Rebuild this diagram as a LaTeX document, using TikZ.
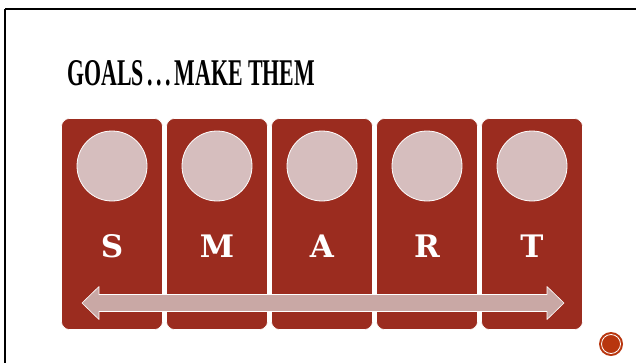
\documentclass[tikz,border=0pt]{standalone}
\usepackage{fontspec}
\setmainfont{DejaVu Serif}
\newfontfamily\titlefont{Liberation Serif}
\usetikzlibrary{positioning}
\definecolor{smartred}{HTML}{9B2C1F}
\definecolor{smartpink}{HTML}{D6BEBE}
\definecolor{arrowpink}{HTML}{C9A8A5}
\definecolor{dotred}{HTML}{B8360F}

\begin{document}
\begin{tikzpicture}[x=1pt,y=-1pt,line join=round]
  \tikzset{
    letterbox/.style={rectangle,rounded corners=8pt,fill=smartred,draw=white,line width=0.6pt,
      minimum width=101pt,minimum height=211pt,inner sep=0pt},
    disc/.style={circle,fill=smartpink,draw=white,line width=0.8pt,minimum size=70pt,inner sep=0pt},
    lettertext/.style={text=white,font=\fontsize{31}{31}\selectfont\bfseries,inner sep=0pt,anchor=base},
  }
  \useasboundingbox (0,0) rectangle (636,362);

  % ==================== frame ====================
  \draw[line width=2pt] (5,9) -- (642,9);
  \draw[line width=2pt] (5,9) -- (5,368);

  % ==================== title ====================
  \node[anchor=base west,inner sep=0pt] (title) at (67,85)
    {\resizebox{248pt}{25pt}{\titlefont\bfseries GOALS\,.\,.\,.\,MAKE THEM}};

  % ==================== letter boxes ====================
  \foreach \i/\l in {0/S,1/M,2/A,3/R,4/T}{
    \node[letterbox] (box\i) at (112+105*\i,224) {};
    \node[disc] (disc\i) at (112+105*\i,166) {};
    \node[lettertext] (let\i) at (112+105*\i,257) {\l};
  }

  % ==================== double arrow ====================
  \coordinate (arL) at (82,303);
  \coordinate (arR) at (564,303);
  \fill[arrowpink,draw=white,line width=0.6pt]
    (arL) -- (99,286.5) -- (99,294.5) -- (547,294.5) -- (547,286.5) -- (arR)
    -- (547,319.5) -- (547,311.5) -- (99,311.5) -- (99,319.5) -- cycle;

  % ==================== page dot ====================
  \node[circle,fill=dotred,minimum size=24pt,inner sep=0pt] (dot) at (611,344) {};
  \draw[white,line width=0.8pt] (dot.center) circle[radius=9.5pt];
\end{tikzpicture}
\end{document}
